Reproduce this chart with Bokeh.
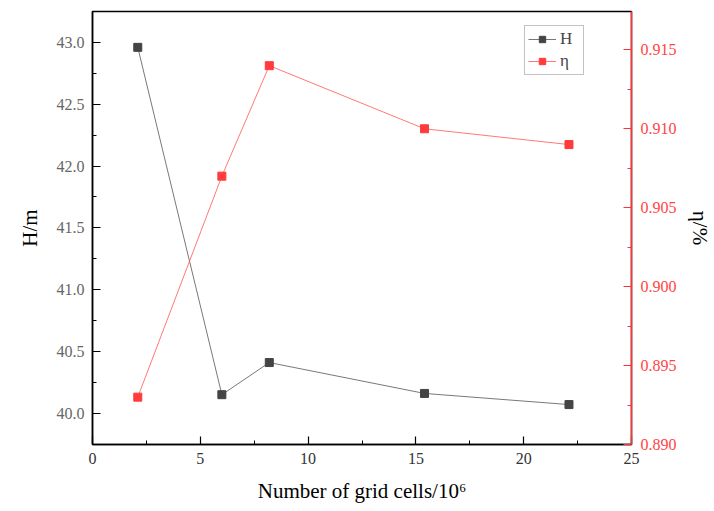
from bokeh.plotting import figure
from bokeh.models import Range1d, LinearAxis, NumeralTickFormatter, FixedTicker, Legend, LegendItem
from bokeh.embed import file_html
from bokeh.resources import INLINE

cells = [2.1, 6.0, 8.2, 15.4, 22.1]
head = [42.96, 40.15, 40.41, 40.16, 40.07]
eta = [0.893, 0.907, 0.914, 0.910, 0.909]
x_ticks = [0, 5, 10, 15, 20, 25]
h_ticks = [40.0, 40.5, 41.0, 41.5, 42.0, 42.5, 43.0]
e_ticks = [0.890, 0.895, 0.900, 0.905, 0.910, 0.915]

SERIF = "Liberation Serif"
H_COLOR = "#444444"
E_COLOR = "#ff3b3b"

p = figure(width=714, height=511, output_backend="svg", toolbar_location=None,
           x_range=Range1d(0, 25), y_range=Range1d(39.747, 43.25),
           min_border_left=92, min_border_right=83, min_border_top=11, min_border_bottom=67)
p.extra_y_ranges = {"eta": Range1d(0.890, 0.91743)}

p.xgrid.visible = False
p.ygrid.visible = False
p.outline_line_color = "black"
p.outline_line_width = 1.5
p.background_fill_color = "white"
p.border_fill_color = "white"

xax = p.xaxis[0]
yax = p.yaxis[0]
for ax in (xax, yax):
    ax.major_tick_in = 8
    ax.major_tick_out = 0
    ax.minor_tick_in = 4
    ax.minor_tick_out = 0
    ax.axis_line_width = 1.5
    ax.major_tick_line_width = 1.2
    ax.major_label_text_font = SERIF
    ax.major_label_text_font_size = "16px"
    ax.major_label_text_color = "#666666"
    ax.major_label_standoff = 8
    ax.axis_label_text_font = SERIF
    ax.axis_label_text_font_size = "21px"
    ax.axis_label_text_font_style = "normal"
    ax.axis_label_text_color = "black"

xax.ticker = FixedTicker(ticks=x_ticks, minor_ticks=[2.5, 7.5, 12.5, 17.5, 22.5])
xax.axis_label = "Number of grid cells/10\u2076"
xax.major_label_text_color = "#333333"
xax.axis_label_standoff = 12
yax.ticker = FixedTicker(ticks=h_ticks,
                         minor_ticks=[39.75, 40.25, 40.75, 41.25, 41.75, 42.25, 42.75, 43.25])
yax.formatter = NumeralTickFormatter(format="0.0")
yax.axis_label = "H/m"
yax.axis_label_standoff = 12

rax = LinearAxis(y_range_name="eta", axis_label="\u03b7/%",
                 major_label_text_font=SERIF, major_label_text_font_size="16px",
                 axis_label_text_font=SERIF, axis_label_text_font_size="21px",
                 axis_label_text_font_style="normal")
rax.ticker = FixedTicker(ticks=e_ticks,
                         minor_ticks=[0.8925, 0.8975, 0.9025, 0.9075, 0.9125])
rax.formatter = NumeralTickFormatter(format="0.000")
rax.major_tick_in = 8
rax.major_tick_out = 0
rax.minor_tick_in = 4
rax.minor_tick_out = 0
rax.axis_line_color = "#ff3333"
rax.axis_line_width = 1.5
rax.major_tick_line_color = "#ff3333"
rax.minor_tick_line_color = "#ff3333"
rax.major_label_text_color = "#ff4444"
rax.major_label_standoff = 9
rax.axis_label_text_color = "black"
rax.axis_label_standoff = 8
p.add_layout(rax, "right")

hl = p.line(cells, head, line_color="#555555", line_width=0.8)
hm = p.scatter(cells, head, marker="square", size=8, fill_color=H_COLOR, line_color=H_COLOR)
el = p.line(cells, eta, line_color="#ff5555", line_width=0.8, y_range_name="eta")
em = p.scatter(cells, eta, marker="square", size=8, fill_color=E_COLOR, line_color=E_COLOR, y_range_name="eta")

legend = Legend(items=[LegendItem(label="H", renderers=[hl, hm]),
                       LegendItem(label="\u03b7", renderers=[el, em])],
                location=(432, 369), orientation="vertical")
legend.label_text_font = SERIF
legend.label_text_font_size = "17px"
legend.border_line_color = "#888888"
legend.border_line_width = 1
legend.background_fill_alpha = 1
legend.glyph_width = 28
legend.glyph_height = 16
legend.spacing = 2
legend.padding = 3
legend.margin = 0
legend.label_standoff = 4
legend.label_height = 16
p.add_layout(legend, "center")

open("out.html", "w").write(file_html(p, INLINE))
